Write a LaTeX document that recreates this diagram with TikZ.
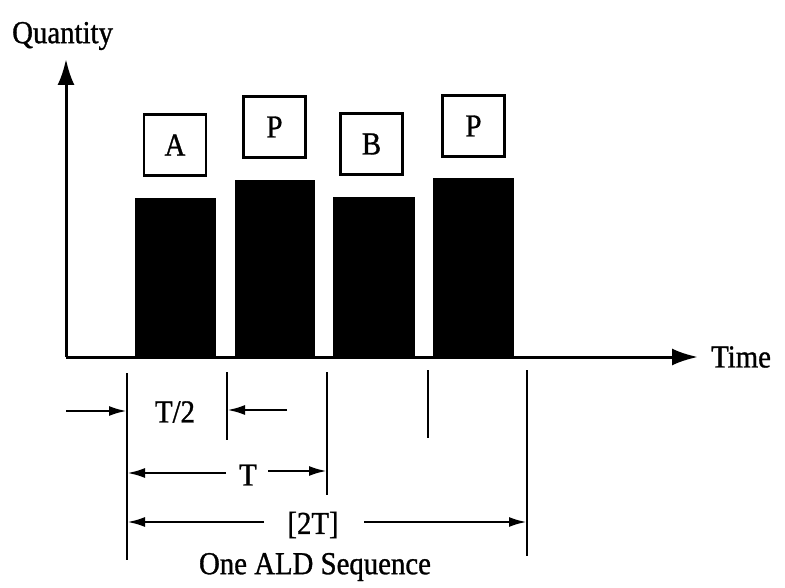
\documentclass[tikz,border=0pt]{standalone}
\usepackage{fontspec}
\setmainfont[FakeStretch=0.9,FakeBold=1]{Liberation Serif}
\usetikzlibrary{arrows.meta}
\begin{document}
\begin{tikzpicture}[x=1pt,y=-1pt,
  lbl/.style={font=\fontsize{32}{34}\selectfont, inner sep=0pt},
  tag/.style={draw, line width=2.4pt, minimum width=62pt, minimum height=61pt, inner sep=0pt, font=\fontsize{32}{34}\selectfont},
  bar/.style={fill=black, draw=none, anchor=south west, inner sep=0pt, minimum width=81pt},
  axis/.style={line width=3pt, -{Latex[length=26pt,width=17pt]}},
  tick/.style={line width=2pt},
  dim/.style={line width=2.6pt, -{Latex[length=18pt,width=10pt]}}]
\useasboundingbox (0,0) rectangle (785,588);
% axes
\coordinate (o) at (66,357);
\coordinate (ytop) at (66,59);
\coordinate (xend) at (698,357);
\draw[axis] (o) -- (ytop);
\draw[axis] (o) -- (xend);
\node[lbl, anchor=west] (qty) at (12,36) {Quantity};
\node[lbl, anchor=west] (time) at (711,357) {Time};
% bars
\node[bar, minimum height=159pt] (b1) at (135,357) {};
\node[bar, minimum height=177pt, minimum width=80pt] (b2) at (235,357) {};
\node[bar, minimum height=160pt, minimum width=82pt] (b3) at (333,357) {};
\node[bar, minimum height=179pt] (b4) at (433,357) {};
% tags
\node[tag] (tA) at (175,145) {A};
\node[tag] (tP1) at (274.5,127) {P};
\node[tag] (tB) at (371.5,144) {B};
\node[tag] (tP2) at (473.5,126) {P};
% ticks
\coordinate (k0a) at (127,373); \coordinate (k0b) at (127,560);
\coordinate (k1a) at (227,372); \coordinate (k1b) at (227,440);
\coordinate (k2a) at (327,372); \coordinate (k2b) at (327,495);
\coordinate (k3a) at (428,370); \coordinate (k3b) at (428,438);
\coordinate (k4a) at (527,370); \coordinate (k4b) at (527,556);
\draw[tick] (k0a) -- (k0b);
\draw[tick] (k1a) -- (k1b);
\draw[tick] (k2a) -- (k2b);
\draw[tick] (k3a) -- (k3b);
\draw[tick] (k4a) -- (k4b);
% T/2
\coordinate (h0) at (127,411);
\coordinate (h1) at (227,410);
\coordinate (hL) at (66,411);
\coordinate (hR) at (287,410);
\draw[dim] (hL) -- (h0);
\draw[dim] (hR) -- (h1);
\node[lbl] (thalf) at (175,412) {T/2};
% T
\coordinate (T0) at (127,473);
\coordinate (T1) at (327,471);
\node[lbl] (tT) at (248,475) {T};
\draw[dim] (226,473) -- (T0);
\draw[dim] (268,471) -- (T1);
% 2T
\coordinate (D0) at (127,522);
\coordinate (D1) at (527,522);
\node[lbl] (t2T) at (313,525) {[2T]};
\draw[dim] (264,522) -- (D0);
\draw[dim] (364,522) -- (D1);
\node[lbl] (seq) at (315,567) {One ALD Sequence};
\end{tikzpicture}
\end{document}
